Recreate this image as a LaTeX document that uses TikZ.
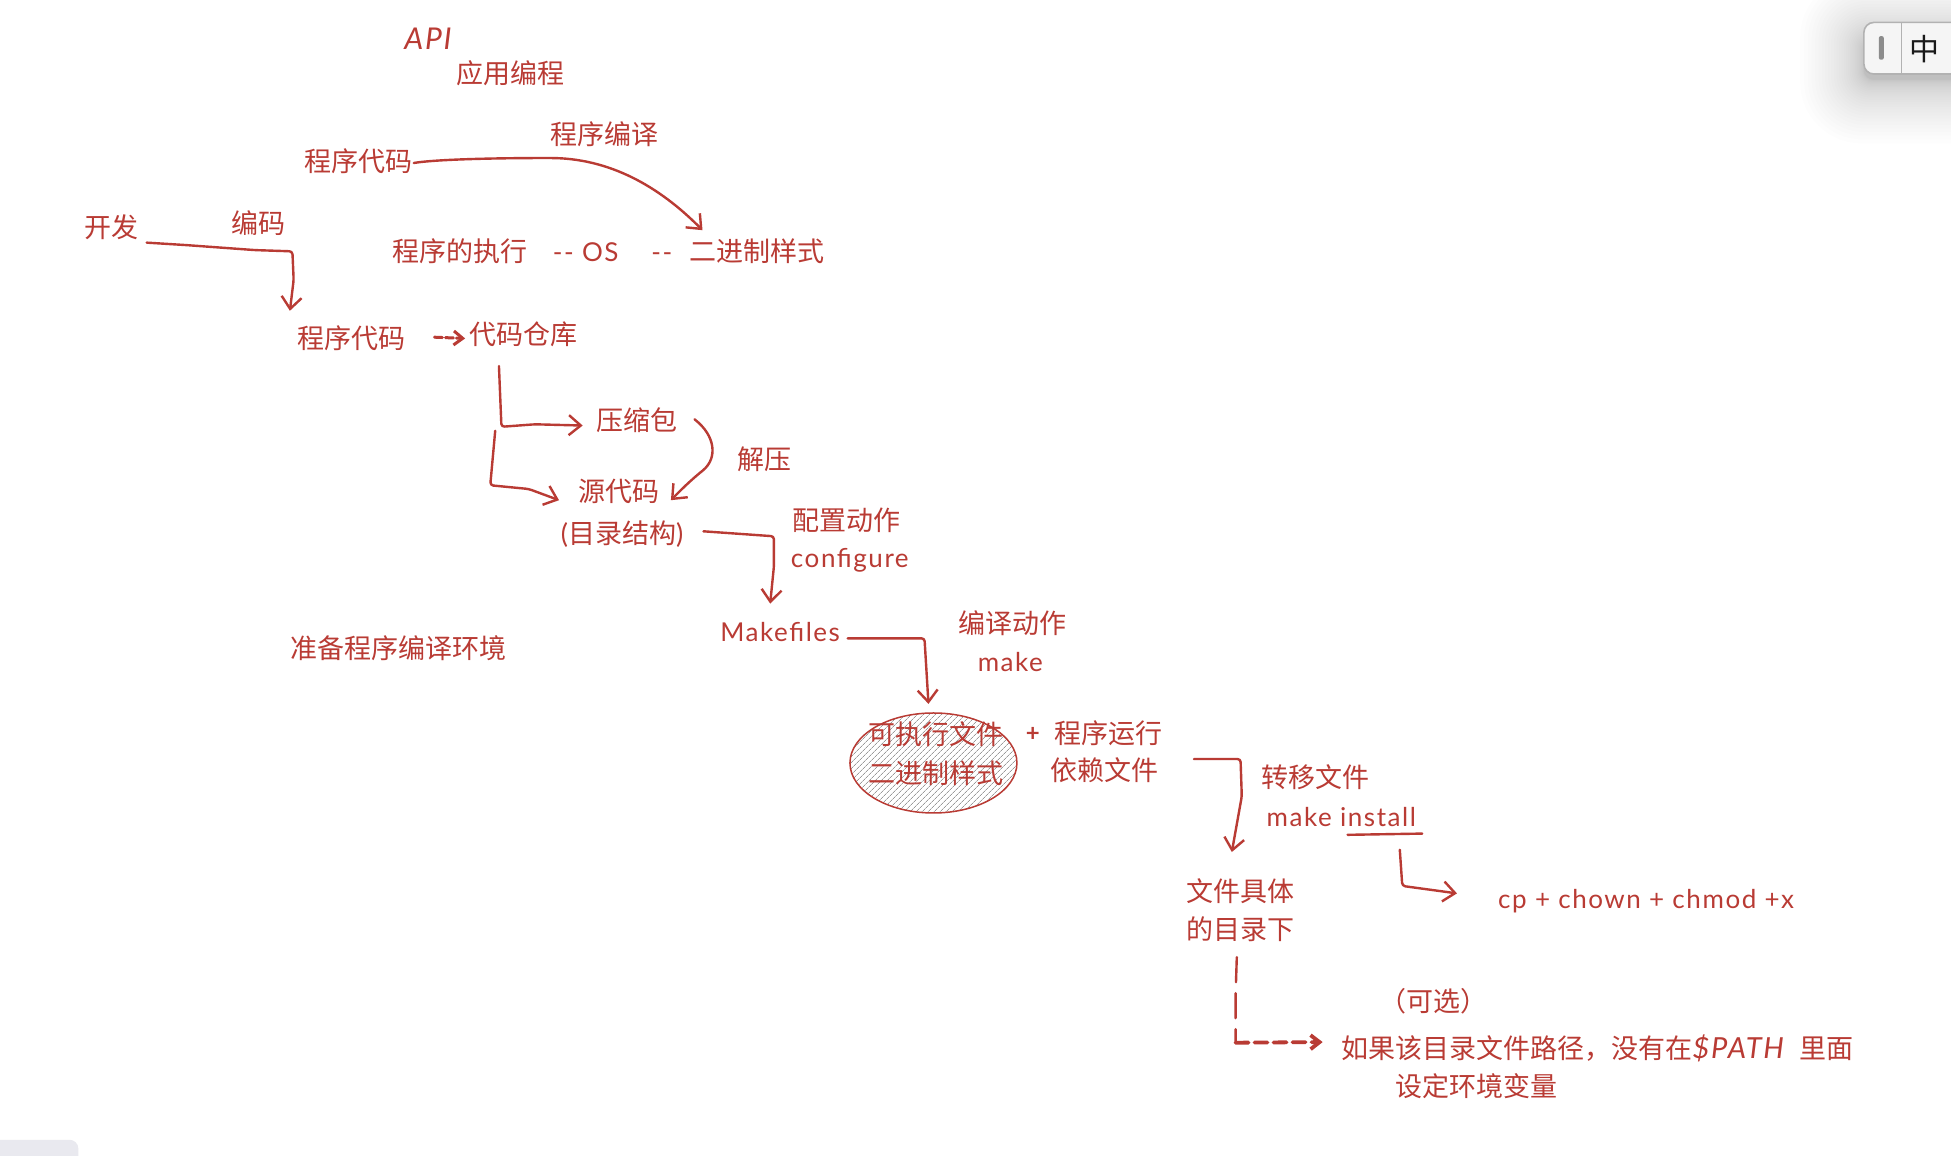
\documentclass[tikz,border=0pt]{standalone}
\usepackage{fontspec}
\setmainfont{Noto Sans CJK SC}
\newfontfamily\hand{Lato}[LetterSpace=6]
\usetikzlibrary{arrows.meta,shapes.geometric,patterns.meta}
\definecolor{ink}{HTML}{B93B34}
\definecolor{hatch}{HTML}{9A9A9A}
\tikzset{
  txt/.style={inner sep=0pt,text=ink,font=\fontsize{27}{38.6}\selectfont,align=center},
  latin/.style={txt,font=\hand\fontsize{26}{30}\selectfont},
  latinit/.style={txt,font=\hand\itshape\fontsize{30}{34}\selectfont},
  line/.style={draw=ink,line width=2.4pt,line cap=round,line join=round},
  conn/.style={line,rounded corners=3pt,-{Straight Barb[length=12pt,width=20pt]}},
  dashv/.style={line,dash pattern=on 25pt off 11pt},
  dashh/.style={line,line width=3.8pt,dash pattern=on 13pt off 6pt,-{Straight Barb[length=9pt,width=14pt]}},
}
\begin{document}
\begin{tikzpicture}[x=1.2443pt,y=-1.2443pt]
\path[use as bounding box,fill=white] (0,0) rectangle (1568,929);
\clip (0,0) rectangle (1568,929);
% input-method widget
\foreach \i in {1,...,32}
  \fill[black,opacity=0.007,rounded corners={(10+0.05*\i*\i)*1pt}]
    ({1498-0.05*\i*\i},{32-0.05*\i*\i}) rectangle ({1620+0.05*\i*\i},{64+0.05*\i*\i});
\draw[fill=white!96!black,draw=black!30,line width=1.6pt,rounded corners=10pt]
  (1498,18) rectangle (1600,59.5);
\draw[black!30,line width=1.4pt] (1528,18) -- (1528,59.5);
\fill[black!45,rounded corners=2pt] (1510,29) rectangle (1514,48);
\node[inner sep=0pt,text=black!90,font=\fontsize{30}{32}\selectfont] (ime) at (1547,39.5) {中};
% bottom-left tab
\fill[fill={rgb,255:red,233;green,233;blue,239},rounded corners=9pt] (-20,916) rectangle (63,950);
% hatched ellipse
\node[ellipse,draw=ink,line width=1.5pt,minimum width=167pt,minimum height=100pt,inner sep=0pt,
      pattern={Lines[angle=45,distance=4pt,line width=0.8pt]},pattern color=hatch] (exe) at (750.2,613.2) {};
% texts
\node[latinit] (api) at (344,31) {API};
\node[txt] (appprog) at (410.5,59) {应用编程};
\node[txt] (compile) at (486,108) {程序编译};
\node[txt] (codea) at (288,129.5) {程序代码};
\node[txt] (dev) at (90,183) {开发};
\node[txt] (enc) at (208,179) {编码};
\node[txt] (run) at (370,202) {程序的执行};
\node[latin] (os) at (493.5,203) {\hspace{-3pt}-- OS \ \ \ --};
\node[txt] (bin) at (608,202) {二进制样式};
\node[txt] (codeb) at (282.5,272) {程序代码};
\node[txt] (repo) at (421,269) {代码仓库};
\node[txt] (zip) at (512,338) {压缩包};
\node[txt] (unzip) at (614.5,369) {解压};
\node[txt] (src) at (497.5,395) {源代码};
\node[txt] (dirs) at (500,429) {{\hand(}目录结构{\hand)}};
\node[txt] (cfgcn) at (680,418) {配置动作};
\node[latin] (cfg) at (683,450) {configure};
\node[latin] (mf) at (627,508) {Makefiles};
\node[txt] (mkcn) at (814,501) {编译动作};
\node[latin] (mk) at (812,532) {make};
\node[txt] (env) at (320,521) {准备程序编译环境};
\node[txt] (exetext) at (752,605.5) {可执行文件\\二进制样式};
\node[latin,font=\hand\bfseries\fontsize{24}{28}\selectfont] (plus) at (830,590) {+};
\node[txt] (runcn) at (891,589) {程序运行};
\node[txt] (dep) at (888,619) {依赖文件};
\node[txt] (mv) at (1057,624.5) {转移文件};
\node[latin] (inst) at (1078,657) {make install};
\node[latin] (cp) at (1323,724) {cp + chown + chmod +x};
\node[txt] (place) at (997,731.5) {文件具体\\的目录下};
\node[txt] (opt) at (1152,805) {（可选）};
\node[txt,anchor=west] (pathn) at (1078,842.5) {如果该目录文件路径，没有在{\hand\itshape\fontsize{29}{30}\selectfont\$PATH}\hspace{9pt} 里面};
\node[txt] (setenv) at (1186.5,873) {设定环境变量};
% connectors
\draw[conn] ([shift={(1,1.5)}]codea.east) .. controls (350,128) and (400,127) .. (440,127)
  .. controls (490,127) and (530,150) .. ([shift={(11,-17)}]bin.west);
\draw[conn] ([shift={(6,12)}]dev.east) -- (150,197) -- (205,201) -- (235,202) -- (236,225) -- ([shift={(-49.5,-12)}]codeb.north);
\draw[line,line width=3pt,-{Straight Barb[length=9pt,width=14pt]},dash pattern=on 8pt off 3pt]
  ([shift={(23.1,-1)}]codeb.east) -- ([shift={(-3.6,3)}]repo.west);
\draw[conn] ([shift={(-20,15)}]repo.south) -- (403,343) -- (430,341) -- ([shift={(-11,4)}]zip.west);
\draw[conn] ([shift={(-23,67)}]repo.south) -- (394,390) -- (425,393) -- ([shift={(-15.5,7)}]src.west);
\draw[line,-{Straight Barb[length=12pt,width=20pt]}] ([shift={(13.5,-1)}]zip.east) .. controls (575,350) and (577,368) .. (565,378)
  .. controls (555,386) and (547,394) .. ([shift={(9,7)}]src.east);
\draw[conn] ([shift={(16,-2)}]dirs.east) -- (622,431) -- (622,455) -- ([shift={(-8,-15)}]mf.north);
\draw[conn] ([shift={(6,5)}]mf.east) -- (743,513) -- ([shift={(-4,-7)}]exe.north);
\draw[conn] ([shift={(28,-9)}]dep.east) -- (997,610) -- (998,640) -- ([shift={(-7,-21)}]place.north);
\draw[line] ([shift={(5,6)}]inst.south) -- ([shift={(65,5)}]inst.south);
\draw[conn] ([shift={(47,18)}]inst.south) -- (1127,712) -- ([shift={(-33,-6)}]cp.west);
\coordinate (corner) at (993,838);
\draw[dashv] ([shift={(-3,12)}]place.south) -- (993,800) -- (corner);
\draw[dashh] (corner) -- ([shift={(-15,-5)}]pathn.west);
\end{tikzpicture}
\end{document}
